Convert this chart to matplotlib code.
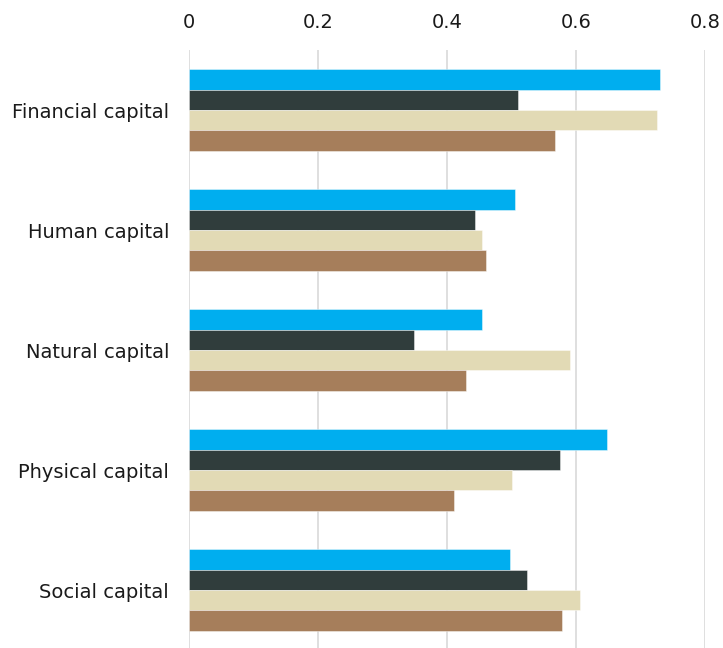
import matplotlib.pyplot as plt
import numpy as np

categories = ["Financial capital", "Human capital", "Natural capital",
              "Physical capital", "Social capital"]
series_a = [0.730, 0.505, 0.455, 0.648, 0.498]
series_b = [0.511, 0.444, 0.349, 0.576, 0.525]
series_c = [0.725, 0.455, 0.591, 0.501, 0.606]
series_d = [0.567, 0.461, 0.430, 0.411, 0.579]
colors = ["#00AEEF", "#303D3C", "#E2DAB5", "#A67E5B"]
xticks = [0, 0.2, 0.4, 0.6, 0.8]

fig = plt.figure(figsize=(7.23, 6.48), dpi=100)
ax = fig.add_axes([188.6 / 723, -2 / 648, (705 - 188.6) / 723, 600 / 648])

y = np.arange(len(categories))
h = 0.17
for i, (vals, c) in enumerate(zip([series_a, series_b, series_c, series_d], colors)):
    ax.barh(y + (i - 1.5) * h, vals, height=h, color=c,
            edgecolor=(1, 1, 1, 0.5), linewidth=0.6, zorder=3)

ax.set_xlim(0, 0.8)
ax.set_ylim(len(categories) - 0.5, -0.5)
ax.set_xticks(xticks)
ax.set_xticklabels(["0", "0.2", "0.4", "0.6", "0.8"])
ax.xaxis.tick_top()
ax.set_yticks(y)
ax.set_yticklabels(categories)
ax.tick_params(axis="x", length=0, pad=13, labelsize=14, colors="#1a1a1a")
ax.tick_params(axis="y", length=0, pad=14, labelsize=14, colors="#1a1a1a")
ax.grid(axis="x", color="#D9D9D9", linewidth=1.2, zorder=0)
for s in ax.spines.values():
    s.set_visible(False)

fig.savefig("out.png", dpi=100)
